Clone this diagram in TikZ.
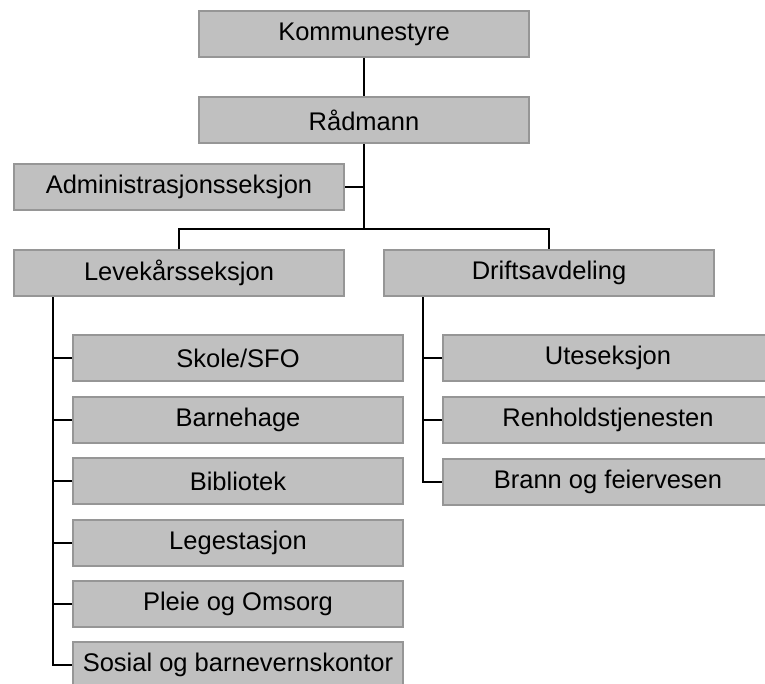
\documentclass[tikz,border=0pt]{standalone}
\usepackage{fontspec}
\setmainfont{Liberation Sans}
\definecolor{boxfill}{HTML}{C0C0C0}
\definecolor{boxline}{HTML}{969696}
\begin{document}
\begin{tikzpicture}[x=1pt,y=-1pt,
  orgbox/.style={draw=boxline, line width=2pt, fill=boxfill, minimum width=330pt, minimum height=46pt, inner sep=0pt, font=\fontsize{25.5}{30}\selectfont, text=black},
  conn/.style={draw=black, line width=1.4pt}]
\useasboundingbox (0,0) rectangle (765,683);
\clip (0,0) rectangle (765,683);
\node[orgbox] (kom) at (364,34) {Kommunestyre};
\node[orgbox] (rad) at (364,120) {Rådmann};
\node[orgbox] (adm) at (179,187) {Administrasjonsseksjon};
\node[orgbox] (lev) at (179,273) {Levekårsseksjon};
\node[orgbox] (drf) at (549,273) {Driftsavdeling};
\node[orgbox] (l1) at (238,358) {Skole/SFO};
\node[orgbox] (l2) at (238,420) {Barnehage};
\node[orgbox] (l3) at (238,481) {Bibliotek};
\node[orgbox] (l4) at (238,543) {Legestasjon};
\node[orgbox] (l5) at (238,604) {Pleie og Omsorg};
\node[orgbox] (l6) at (238,665) {Sosial og barnevernskontor};
\node[orgbox] (r1) at (608,358) {Uteseksjon};
\node[orgbox] (r2) at (608,420) {Renholdstjenesten};
\node[orgbox] (r3) at (608,482) {Brann og feiervesen};
\coordinate (bus) at (364,229);
\coordinate (lt) at (53,297);
\coordinate (rt) at (423,297);
\draw[conn] (kom) -- (rad);
\draw[conn] (rad) -- (bus);
\draw[conn] (adm.east) -- (adm.east -| bus);
\draw[conn] (lev.north) |- (bus) -| (drf.north);
\draw[conn] (lt) |- (l6.west);
\foreach \n in {l1,l2,l3,l4,l5} \draw[conn] (\n.west) -- (\n.west -| lt);
\draw[conn] (rt) |- (r3.west);
\foreach \n in {r1,r2} \draw[conn] (\n.west) -- (\n.west -| rt);
\end{tikzpicture}
\end{document}
